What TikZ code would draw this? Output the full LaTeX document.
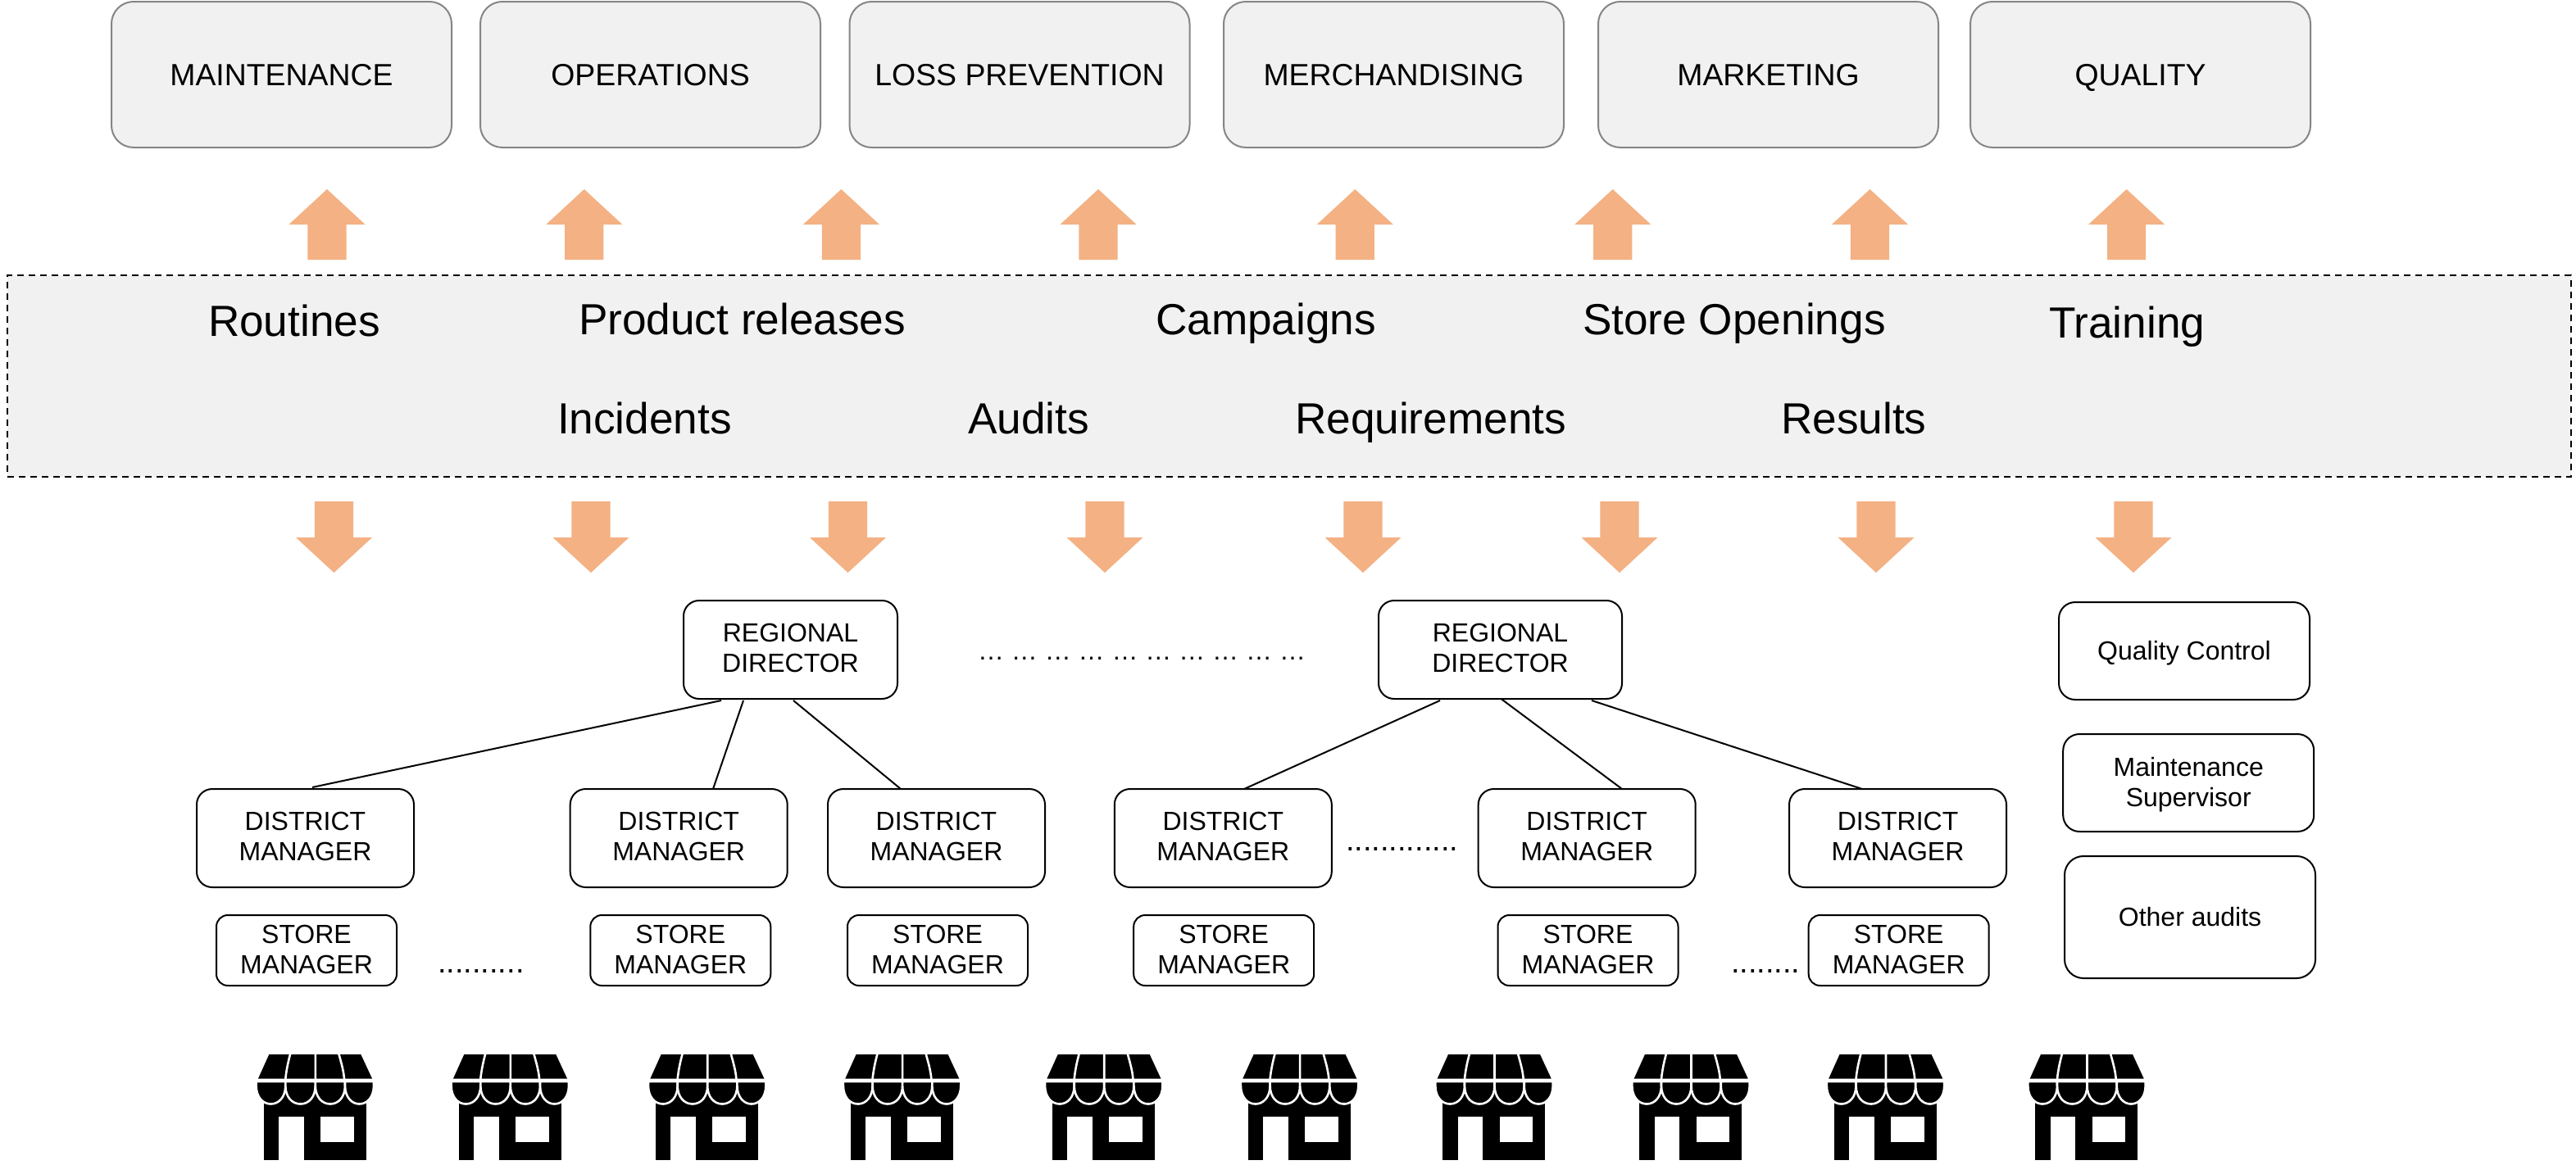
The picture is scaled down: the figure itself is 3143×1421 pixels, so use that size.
\documentclass[tikz,border=0pt]{standalone}
\usepackage{fontspec}
\setmainfont{Liberation Sans}
\usetikzlibrary{calc}
\definecolor{arrowc}{HTML}{F4B183}
\definecolor{panelc}{HTML}{F1F1F1}
\definecolor{edgec}{HTML}{858585}
\tikzset{
  topbox/.style={draw=edgec,fill=panelc,line width=1pt,rounded corners=13.5pt,minimum width=207.5pt,minimum height=89pt,inner sep=0pt,outer sep=0pt,font=\fontsize{18.7}{22}\selectfont,align=center,text height=13.4pt,text depth=0pt},
  lowbox/.style={draw=black,fill=white,line width=1pt,inner sep=0pt,outer sep=0pt,font=\fontsize{16}{18.5}\selectfont,align=center},
  regbox/.style={lowbox,rounded corners=9.5pt,minimum height=60pt,text depth=2pt},
  distbox/.style={lowbox,rounded corners=9.5pt,minimum width=132.5pt,minimum height=60pt,text depth=2pt},
  storebox/.style={lowbox,rounded corners=7pt,minimum width=110pt,minimum height=43pt,text depth=1.5pt},
  sidebox/.style={lowbox,rounded corners=10pt,minimum width=153pt},
  bigtext/.style={anchor=base west,inner sep=0pt,outer sep=0pt,font=\fontsize{26.6}{30}\selectfont},
  dotstext/.style={anchor=base west,inner sep=0pt,outer sep=0pt,font=\fontsize{19}{22}\selectfont},
  link/.style={draw=black,line width=1pt},
  uparr/.pic={\fill[arrowc] (-23.6,86) -- (-23.6,43) -- (-46.5,43) -- (0,0) -- (46.5,43) -- (23.6,43) -- (23.6,86) -- cycle;},
  downarr/.pic={\fill[arrowc] (-23.6,0) -- (-23.6,44) -- (-46.5,44) -- (0,87) -- (46.5,44) -- (23.6,44) -- (23.6,0) -- cycle;},
  shop/.pic={
    \fill[black] (-62.7,40) rectangle (62.3,129.3);
    \fill[white] (-44.3,76) rectangle (-13.7,130);
    \fill[white] (6.7,76) rectangle (47.3,107.3);
    \fill[black] (-56,0) -- (56,0) -- (69.7,29.5) -- (-69.3,29.5) -- cycle;
    \draw[white,line width=1.3pt] (-30,-1) .. controls (-33,10) and (-35,20) .. (-36,30) (0.5,-1) -- (0.5,30) (29,-1) .. controls (32,10) and (35,20) .. (35.7,30);
    \foreach \xa/\xb in {-71.7/-36,-36/0.5,0.5/36.7,36.7/71.7}{
      \draw[white,fill=black,line width=1.3pt] (\xa,33) -- (\xa,38) .. controls (\xa,52) and (\xa+8,60.5) .. ({(\xa+\xb)/2},60.5) .. controls (\xb-8,60.5) and (\xb,52) .. (\xb,38) -- (\xb,33) -- cycle;
    }
  }
}
\begin{document}
\begin{tikzpicture}[x=0.5pt,y=-0.5pt]
\useasboundingbox (0,0) rectangle (3143,1421);
\fill[white] (0,0) rectangle (3143,1421);
% top boxes
\node[topbox] (t1) at (343.5,91) {MAINTENANCE};
\node[topbox] (t2) at (793.5,91) {OPERATIONS};
\node[topbox] (t3) at (1244,91) {LOSS PREVENTION};
\node[topbox] (t4) at (1700.5,91) {MERCHANDISING};
\node[topbox] (t5) at (2157.5,91) {MARKETING};
\node[topbox] (t6) at (2611.5,91) {QUALITY};
% up arrows
\foreach \ax in {399,712.8,1026.4,1340,1653.3,1967.7,2281.5,2594.6}{\pic at (\ax,231) {uparr};}
% shared panel
\node[draw=black,fill=panelc,line width=1pt,dash pattern=on 4pt off 3pt,minimum width=1564pt,minimum height=123pt,inner sep=0pt,outer sep=0pt] (panel) at (1573,459) {};
\node[bigtext] (routines) at (254,410) {Routines};
\node[bigtext] (releases) at (706,408) {Product releases};
\node[bigtext] (campaigns) at (1410,408) {Campaigns};
\node[bigtext] (openings) at (1931,408) {Store Openings};
\node[bigtext] (training) at (2500,412) {Training};
\node[bigtext] (incidents) at (680,529) {Incidents};
\node[bigtext] (audits) at (1181,529) {Audits};
\node[bigtext] (requirements) at (1580,529) {Requirements};
\node[bigtext] (results) at (2173,529) {Results};
% down arrows
\foreach \ax in {407.5,721,1034.5,1348,1663,1976,2289,2603}{\pic at (\ax,612) {downarr};}
% regional directors
\node[regbox,minimum width=130.5pt] (rd1) at (964.5,793) {REGIONAL\\DIRECTOR};
\node[regbox,minimum width=148.5pt] (rd2) at (1830.5,793) {REGIONAL\\DIRECTOR};
\node[dotstext,font=\fontsize{16}{18.5}\selectfont] (gap) at (1193,805) {… … … … … … … … … …};
% district managers
\node[distbox] (d1) at (372.5,1023) {DISTRICT\\MANAGER};
\node[distbox] (d2) at (828.2,1023) {DISTRICT\\MANAGER};
\node[distbox] (d3) at (1142.5,1023) {DISTRICT\\MANAGER};
\node[distbox] (d4) at (1492.3,1023) {DISTRICT\\MANAGER};
\node[distbox] (d5) at (1936.2,1023) {DISTRICT\\MANAGER};
\node[distbox] (d6) at (2315.5,1023) {DISTRICT\\MANAGER};
\node[dotstext] (gapd) at (1642,1038) {.............};
% store managers
\node[storebox] (s1) at (374,1160) {STORE\\MANAGER};
\node[storebox] (s2) at (830.3,1160) {STORE\\MANAGER};
\node[storebox] (s3) at (1144,1160) {STORE\\MANAGER};
\node[storebox] (s4) at (1493.2,1160) {STORE\\MANAGER};
\node[storebox] (s5) at (1937.5,1160) {STORE\\MANAGER};
\node[storebox] (s6) at (2316.7,1160) {STORE\\MANAGER};
\node[dotstext] (gaps1) at (534,1187) {..........};
\node[dotstext] (gaps2) at (2112,1187) {........};
% side boxes
\node[sidebox,minimum height=59.5pt,text height=11.5pt,text depth=0.5pt] (qc) at (2665,794.5) {Quality Control};
\node[sidebox,minimum height=59.5pt,text depth=0.8pt] (ms) at (2670.2,955.5) {Maintenance\\Supervisor};
\node[sidebox,minimum height=74.5pt,rounded corners=11.5pt] (oa) at (2672,1119.5) {Other audits};
% connectors
\draw[link] ($(rd1.south)+(-84.5,2)$) -- ($(d1.north)+(8.5,-2)$);
\draw[link] ($(rd1.south)+(-57.5,2)$) -- ($(d2.north)+(41.8,0)$);
\draw[link] ($(rd1.south)+(3.5,2)$) -- ($(d3.north)+(-43.5,0)$);
\draw[link] ($(rd2.south)+(-73.5,2)$) -- ($(d4.north)+(25.7,0)$);
\draw[link] ($(rd2.south)+(1,0)$) -- ($(d5.north)+(42.8,0)$);
\draw[link] ($(rd2.south)+(111.5,2)$) -- ($(d6.north)+(-43.5,0)$);
% shops
\foreach \sx in {384.3,622.3,862.7,1100.6,1346.7,1585.6,1823,2063,2300.5,2546}{\pic at (\sx,1287) {shop};}
\end{tikzpicture}
\end{document}
